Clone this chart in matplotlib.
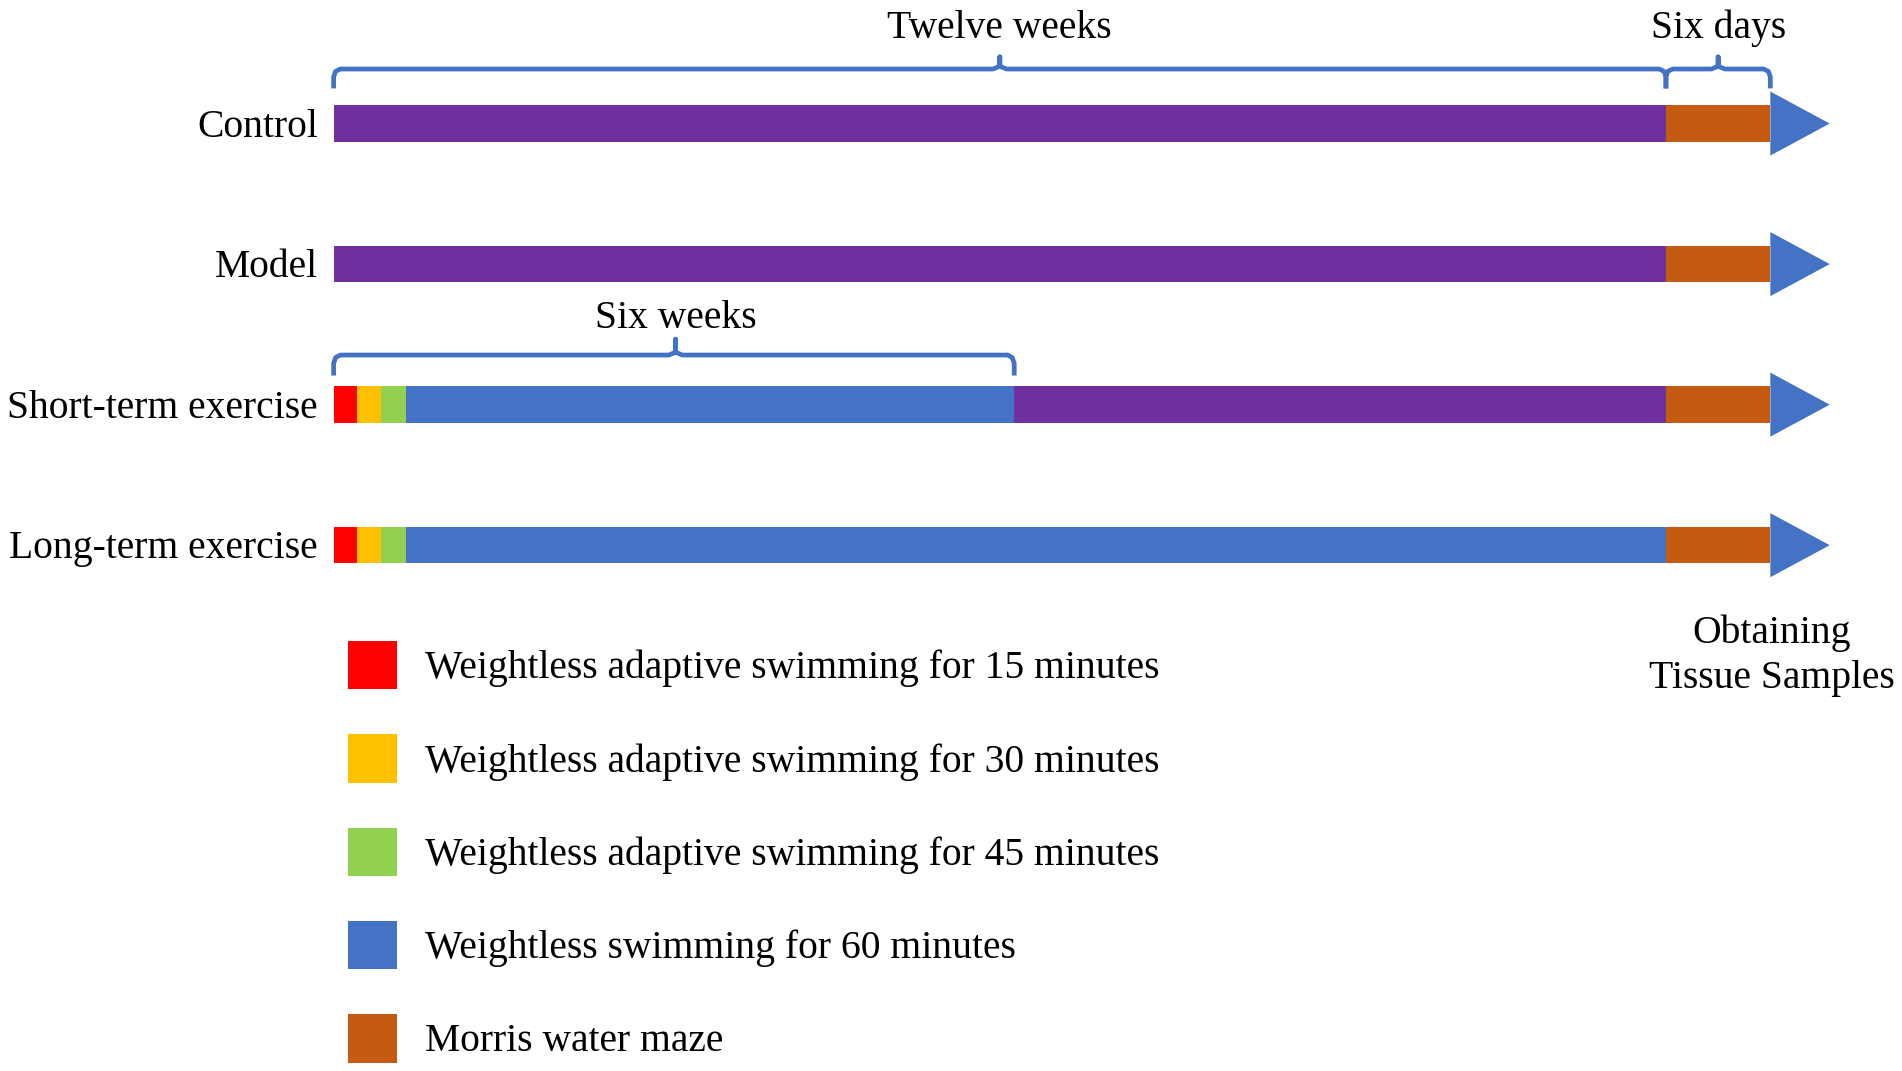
import matplotlib
matplotlib.use("Agg")
import matplotlib.pyplot as plt
from matplotlib.patches import Polygon, Rectangle

plt.rcParams['font.family'] = ['Liberation Serif', 'DejaVu Serif']

# groups (top to bottom) and their phases, lengths in weeks
groups = ["Control", "Model", "Short-term exercise", "Long-term exercise"]
control_len = [12.0, 0.94]
control_kind = ["model", "maze"]
model_len = [12.0, 0.94]
model_kind = ["model", "maze"]
short_len = [0.21, 0.22, 0.22, 5.48, 5.87, 0.94]
short_kind = ["s15", "s30", "s45", "s60", "model", "maze"]
long_len = [0.21, 0.22, 0.22, 11.35, 0.94]
long_kind = ["s15", "s30", "s45", "s60", "maze"]

colors = {"s15": "#FF0000", "s30": "#FFC000", "s45": "#92D050",
          "s60": "#4472C4", "maze": "#C55A11", "model": "#7030A0"}

legend_kind = ["s15", "s30", "s45", "s60", "maze"]
legend_text = ["Weightless adaptive swimming for 15 minutes",
               "Weightless adaptive swimming for 30 minutes",
               "Weightless adaptive swimming for 45 minutes",
               "Weightless swimming for 60 minutes",
               "Morris water maze"]

# brace spans
twelve_weeks = 12.0
six_days = 0.94
six_weeks = 6.13

fig = plt.figure(figsize=(19.02, 10.71), dpi=100)
ax = fig.add_axes([0, 0, 1, 1])
ax.set_xlim(-3.005, 14.126)
ax.set_ylim(6.741, -0.879)
ax.axis("off")

FS = 28.5
dy_txt = 0.025  # small nudge so text centres match the bars
bar_h = 0.26
blue = "#4472C4"

all_len = [control_len, model_len, short_len, long_len]
all_kind = [control_kind, model_kind, short_kind, long_kind]
for row, (name, lens, kinds) in enumerate(zip(groups, all_len, all_kind)):
    left = 0.0
    for L, k in zip(lens, kinds):
        ax.barh(row, L, left=left, height=bar_h, color=colors[k], linewidth=0)
        left += L
    # arrow head at the end of the bar
    ax.add_patch(Polygon([(left, row - 0.228), (left, row + 0.228), (left + 0.535, row)],
                         closed=True, color=blue, lw=0))
    ax.text(-0.14, row + dy_txt, name, ha="right", va="center", fontsize=FS)


def brace(x0, x1, y_line, y_end, y_notch, xc=None):
    if xc is None:
        xc = (x0 + x1) / 2
    dx = 0.06
    dy = (y_end - y_line) * 0.4
    xs = [x0, x0, x0 + dx * 0.3, x0 + dx, xc - dx, xc, xc, xc, xc + dx,
          x1 - dx, x1 - dx * 0.3, x1, x1]
    ys = [y_end, y_line + dy, y_line + dy * 0.3, y_line, y_line, y_line - 0.02, y_notch,
          y_line - 0.02, y_line, y_line, y_line + dy * 0.3, y_line + dy, y_end]
    ax.plot(xs, ys, color=blue, lw=3.4, solid_joinstyle="round", solid_capstyle="butt")


brace(0, twelve_weeks, -0.388, -0.25, -0.474)
ax.text(twelve_weeks / 2, -0.70 + dy_txt, "Twelve weeks", ha="center", va="center", fontsize=FS)
brace(twelve_weeks, twelve_weeks + six_days, -0.388, -0.25, -0.474)
ax.text(twelve_weeks + six_days / 2, -0.70 + dy_txt, "Six days", ha="center", va="center", fontsize=FS)
brace(0, six_weeks, 1.647, 1.793, 1.534, xc=3.08)
ax.text(3.08, 1.36 + dy_txt, "Six weeks", ha="center", va="center", fontsize=FS)

ax.text(twelve_weeks + six_days + 0.01, 3.785, "Obtaining\nTissue Samples", ha="center",
        va="center", fontsize=FS, linespacing=1.3)

# legend
for i, (k, t) in enumerate(zip(legend_kind, legend_text)):
    yc = 3.853 + 0.664 * i
    ax.add_patch(Rectangle((0.131, yc - 0.172), 0.437, 0.345, color=colors[k], lw=0))
    ax.text(0.82, yc + dy_txt, t, ha="left", va="center", fontsize=FS)

fig.savefig("out.png", dpi=100)
